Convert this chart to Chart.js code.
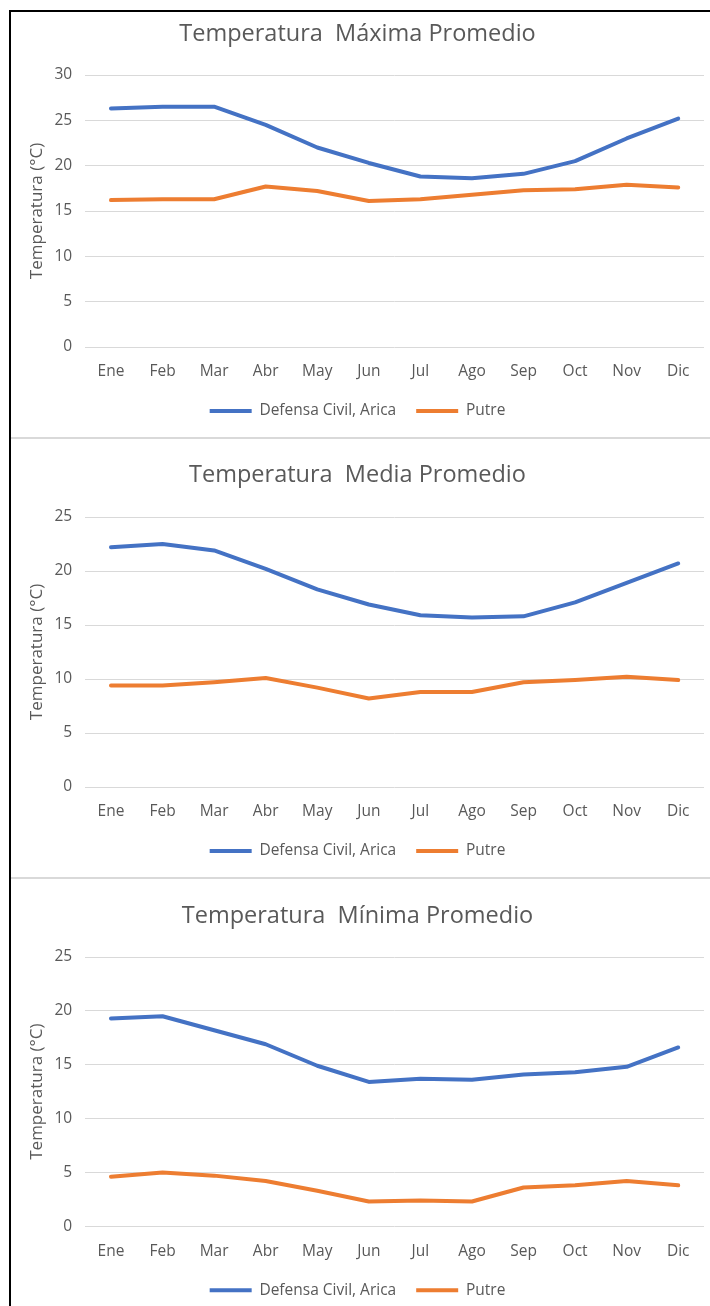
<!DOCTYPE html>
<html lang="es">
<head>
<meta charset="UTF-8">
<title>Temperaturas promedio</title>
<script src="https://cdn.jsdelivr.net/npm/chart.js"></script>
<style>
    html, body { margin: 0; padding: 0; background: #fff; }
    body { width: 710px; height: 1306px; position: relative; overflow: hidden; }
    .frame { position: absolute; left: 9px; top: 10px; width: 720px; height: 1320px;
             border-left: 2px solid #000; border-top: 2px solid #000; }
    .sep { position: absolute; left: 11px; width: 699px; height: 2px; background: #d9d9d9; }
    canvas { position: absolute; left: 11px; }
</style>
</head>
<body>
<div class="frame"></div>
<canvas id="cMax" width="699" height="426" style="top:14px"></canvas>
<div class="sep" style="top:437px"></div>
<canvas id="cMed" width="699" height="438" style="top:442px"></canvas>
<div class="sep" style="top:877px"></div>
<canvas id="cMin" width="699" height="426" style="top:882px"></canvas>

<script>
    const meses = ['Ene', 'Feb', 'Mar', 'Abr', 'May', 'Jun', 'Jul', 'Ago', 'Sep', 'Oct', 'Nov', 'Dic'];
    const estaciones = ['Defensa Civil, Arica', 'Putre'];

    // Temperatura máxima promedio (°C)
    const maxArica = [26.3, 26.5, 26.5, 24.5, 22.0, 20.3, 18.8, 18.6, 19.1, 20.5, 23.0, 25.2];
    const maxPutre = [16.2, 16.3, 16.3, 17.7, 17.2, 16.1, 16.3, 16.8, 17.3, 17.4, 17.9, 17.6];

    // Temperatura media promedio (°C)
    const medArica = [22.2, 22.5, 21.9, 20.2, 18.3, 16.9, 15.9, 15.7, 15.8, 17.1, 18.9, 20.7];
    const medPutre = [9.4, 9.4, 9.7, 10.1, 9.2, 8.2, 8.8, 8.8, 9.7, 9.9, 10.2, 9.9];

    // Temperatura mínima promedio (°C)
    const minArica = [19.3, 19.5, 18.2, 16.9, 14.9, 13.4, 13.7, 13.6, 14.1, 14.3, 14.8, 16.6];
    const minPutre = [4.6, 5.0, 4.7, 4.2, 3.3, 2.3, 2.4, 2.3, 3.6, 3.8, 4.2, 3.8];

    const ejeMax = { max: 30, step: 5 };
    const ejeMed = { max: 25, step: 5 };
    const ejeMin = { max: 25, step: 5 };

    const AZUL = '#4472C4';
    const NARANJA = '#ED7D31';
    const GRIS = '#595959';
    const FUENTE = "'Open Sans', sans-serif";

    function serie(label, data, color) {
        return {
            label: label,
            data: data,
            borderColor: color,
            backgroundColor: color,
            borderWidth: 4,
            pointRadius: 0,
            tension: 0,
            borderCapStyle: 'round',
            borderJoinStyle: 'round'
        };
    }

    function grafico(id, titulo, arica, putre, eje, lay) {
        new Chart(document.getElementById(id), {
            type: 'line',
            data: {
                labels: meses,
                datasets: [
                    serie(estaciones[0], arica, AZUL),
                    serie(estaciones[1], putre, NARANJA)
                ]
            },
            options: {
                responsive: false,
                animation: false,
                layout: { padding: { left: 0, right: 6, top: 0, bottom: lay.bottom } },
                plugins: {
                    title: {
                        display: true,
                        text: titulo,
                        color: GRIS,
                        font: { family: FUENTE, size: 23.5, weight: 'normal' },
                        padding: { top: lay.titleTop, bottom: lay.titleBottom }
                    },
                    legend: {
                        position: 'bottom',
                        labels: {
                            color: GRIS,
                            font: { family: FUENTE, size: 15.5 },
                            usePointStyle: true,
                            pointStyle: 'line',
                            pointStyleWidth: 42,
                            padding: 20
                        }
                    },
                    tooltip: { enabled: false }
                },
                scales: {
                    x: {
                        offset: true,
                        grid: { display: false, drawTicks: false },
                        border: { display: false },
                        ticks: { color: GRIS, font: { family: FUENTE, size: 15.5 }, padding: 15.7 },
                        afterFit: function (scale) { scale.height = lay.xHeight; }
                    },
                    y: {
                        min: 0,
                        max: eje.max,
                        grid: { color: '#d9d9d9', lineWidth: 1, drawTicks: false },
                        border: { display: false },
                        ticks: { stepSize: eje.step, color: GRIS, font: { family: FUENTE, size: 15.5 }, padding: 13 },
                        title: {
                            display: true,
                            text: 'Temperatura (°C)',
                            color: GRIS,
                            font: { family: FUENTE, size: 17 },
                            padding: { top: 15.8, bottom: 0 }
                        },
                        afterFit: function (scale) { scale.width = 74.2; }
                    }
                }
            }
        });
    }

    grafico('cMax', 'Temperatura  Máxima Promedio', maxArica, maxPutre, ejeMax,
        { titleTop: 6, titleBottom: 26.8, xHeight: 36.25, bottom: 11.25 });
    grafico('cMed', 'Temperatura  Media Promedio', medArica, medPutre, ejeMed,
        { titleTop: 18.9, titleBottom: 27.9, xHeight: 36.25, bottom: 11.25 });
    grafico('cMin', 'Temperatura  Mínima Promedio', minArica, minPutre, ejeMin,
        { titleTop: 19.9, titleBottom: 26.9, xHeight: 36.25, bottom: 0 });
</script>
</body>
</html>
